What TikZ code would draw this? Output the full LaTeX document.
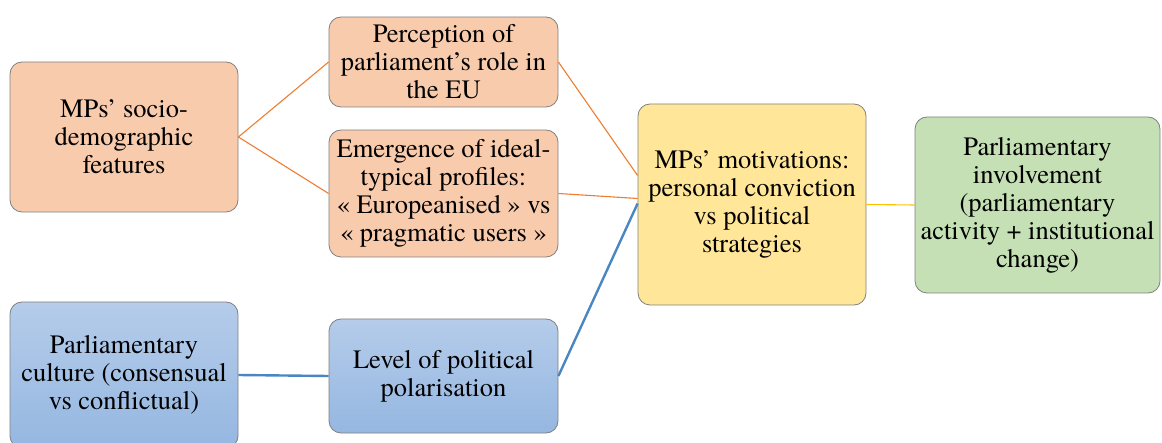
\documentclass[tikz,border=0pt]{standalone}
\usepackage{fontspec}
\setmainfont{TeX Gyre Termes}
\usetikzlibrary{positioning,calc}

\definecolor{peach}{HTML}{F8CBAD}
\definecolor{skytop}{HTML}{B5CCEA}
\definecolor{skybot}{HTML}{95B7E1}
\definecolor{butter}{HTML}{FFE699}
\definecolor{sage}{HTML}{C5E0B4}
\definecolor{lineorange}{HTML}{ED7D31}
\definecolor{lineblue}{HTML}{4A86C2}
\definecolor{lineyellow}{HTML}{FFC000}

\begin{document}
\begin{tikzpicture}[x=1pt,y=-1pt,
   box/.style={draw=black!50,line width=0.8pt,rounded corners=12pt,align=center,
     inner sep=2pt,font=\fontsize{26.5}{28}\selectfont},
   warm/.style={box,fill=peach},
   cool/.style={box,top color=skytop,bottom color=skybot},
   link/.style={line width=1.1pt}]
  \clip (0,0) rectangle (1162,443);
  \node[warm,minimum width=228,minimum height=150] (socio) at (124,137)
    {MPs’ socio-\\demographic\\features};
  \node[warm,minimum width=229,minimum height=90] (role) at (443.5,62)
    {Perception of\\parliament’s role in\\the EU};
  \node[warm,minimum width=229,minimum height=127] (profiles) at (443.5,193.5)
    {Emergence of ideal-\\typical profiles:\\« Europeanised » vs\\« pragmatic users »};
  \node[box,fill=butter,minimum width=228,minimum height=201] (motiv) at (752,204.5)
    {MPs’ motivations:\\personal conviction\\vs political\\strategies};
  \node[box,fill=sage,minimum width=245,minimum height=176] (involve) at (1037.5,205)
    {Parliamentary\\involvement\\(parliamentary\\activity + institutional\\change)};
  \node[cool,minimum width=228,minimum height=146] (culture) at (124,375)
    {Parliamentary\\culture (consensual\\vs conflictual)};
  \node[cool,minimum width=229,minimum height=114] (polar) at (443.5,376)
    {Level of political\\polarisation};

  \coordinate (m1) at ([yshift=29pt]motiv.west);
  \coordinate (m2) at ([yshift=6pt]motiv.west);
  \coordinate (m3) at ([yshift=1pt]motiv.west);

  \draw[link,lineorange] (socio.east) -- (role.west);
  \draw[link,lineorange] (socio.east) -- (profiles.west);
  \draw[link,lineorange] (role.east) -- (m1);
  \draw[link,lineorange] (profiles.east) -- (m2);
  \draw[line width=2.4pt,lineblue] (polar.east) -- (m3);
  \draw[line width=2.4pt,lineblue] (culture.east) -- (polar.west);
  \draw[link,lineyellow] (motiv.east) -- (involve.west);
\end{tikzpicture}
\end{document}
